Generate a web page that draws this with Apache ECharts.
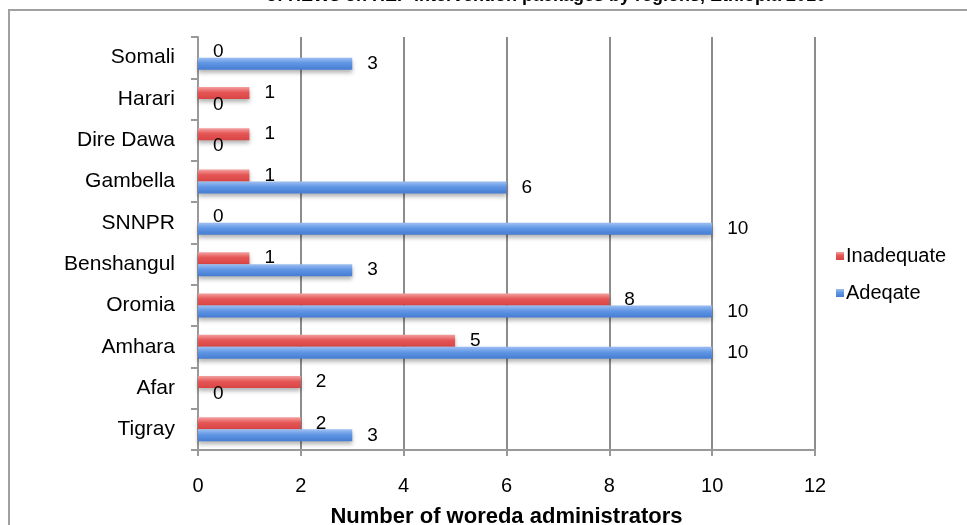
<!DOCTYPE html>
<html>
<head>
<meta charset="utf-8">
<script src="https://cdn.jsdelivr.net/npm/echarts@6/dist/echarts.min.js"></script>
<style>
  html, body { margin: 0; padding: 0; background: #fff; }
  #chart { width: 967px; height: 525px; }
</style>
</head>
<body>
<div id="chart"></div>
<script>
// Regions, listed bottom to top along the category axis
const regions = ['Tigray', 'Afar', 'Amhara', 'Oromia', 'Benshangul', 'SNNPR', 'Gambella', 'Dire Dawa', 'Harari', 'Somali'];
// Number of woreda administrators per rating
const inadequate = [2, 2, 5, 8, 1, 0, 1, 1, 1, 0];
const adequate = [3, 0, 10, 10, 3, 10, 6, 0, 0, 3];
const xTicks = [0, 2, 4, 6, 8, 10, 12];

const FONT = 'Liberation Sans, Arial, Helvetica, sans-serif';

function barFill(light, mid, dark) {
  return new echarts.graphic.LinearGradient(0, 0, 0, 1, [
    { offset: 0, color: light },
    { offset: 0.45, color: mid },
    { offset: 1, color: dark }
  ]);
}

const valueLabel = {
  show: true,
  position: 'right',
  distance: 15,
  color: '#000',
  fontSize: 19,
  fontFamily: FONT
};

const chart = echarts.init(document.getElementById('chart'), null, { renderer: 'canvas' });
chart.setOption({
  animation: false,
  backgroundColor: '#fff',
  graphic: [
    {
      type: 'rect',
      shape: { x: 9, y: 10, width: 1000, height: 560 },
      style: { fill: '#fff', stroke: '#a0a0a0', lineWidth: 2 },
      z: -10
    },
    {
      type: 'text',
      x: 546,
      y: 5,
      style: {
        text: 'of HEWs on HEP intervention packages by regions, Ethiopia 2010',
        font: 'bold 18px ' + FONT,
        fill: '#000',
        textAlign: 'center',
        textVerticalAlign: 'bottom'
      }
    }
  ],
  legend: {
    orient: 'vertical',
    left: 831,
    top: 241,
    itemWidth: 8,
    itemHeight: 8,
    itemGap: 17,
    icon: 'rect',
    textStyle: { fontSize: 20, fontFamily: FONT, color: '#000', padding: [0, 0, 0, -3] },
    data: ['Inadequate', 'Adeqate']
  },
  grid: { left: 198, right: 152, top: 37, bottom: 75, containLabel: false, outerBoundsMode: 'none' },
  xAxis: {
    type: 'value',
    min: xTicks[0],
    max: xTicks[xTicks.length - 1],
    interval: 2,
    name: 'Number of woreda administrators',
    nameLocation: 'middle',
    nameGap: 56,
    nameTextStyle: { fontSize: 22, fontWeight: 'bold', fontFamily: FONT, color: '#000' },
    axisLine: { show: true, lineStyle: { color: '#999', width: 2 } },
    axisTick: { show: true, length: 6, lineStyle: { color: '#999', width: 2 } },
    axisLabel: { fontSize: 20, fontFamily: FONT, color: '#000', margin: 26 },
    splitLine: { show: true, lineStyle: { color: '#8c8c8c', width: 2 } }
  },
  yAxis: {
    type: 'category',
    data: regions,
    axisLine: { show: true, lineStyle: { color: '#999', width: 2 } },
    axisTick: { show: true, length: 7, lineStyle: { color: '#999', width: 2 } },
    axisLabel: { fontSize: 21, fontFamily: FONT, color: '#000', margin: 23 },
    splitLine: { show: false }
  },
  series: [
    {
      name: 'Inadequate',
      type: 'bar',
      data: inadequate,
      barWidth: 12,
      barGap: '0%',
      itemStyle: {
        color: barFill('#f3a0a0', '#e65656', '#d84444'),
        shadowColor: 'rgba(0,0,0,0.3)',
        shadowBlur: 4,
        shadowOffsetY: 3
      },
      label: valueLabel
    },
    {
      name: 'Adeqate',
      type: 'bar',
      data: adequate,
      barWidth: 12,
      barGap: '0%',
      itemStyle: {
        color: barFill('#9dbff2', '#6096e4', '#467cd2'),
        shadowColor: 'rgba(0,0,0,0.3)',
        shadowBlur: 4,
        shadowOffsetY: 3
      },
      label: valueLabel
    }
  ]
});
</script>
</body>
</html>
